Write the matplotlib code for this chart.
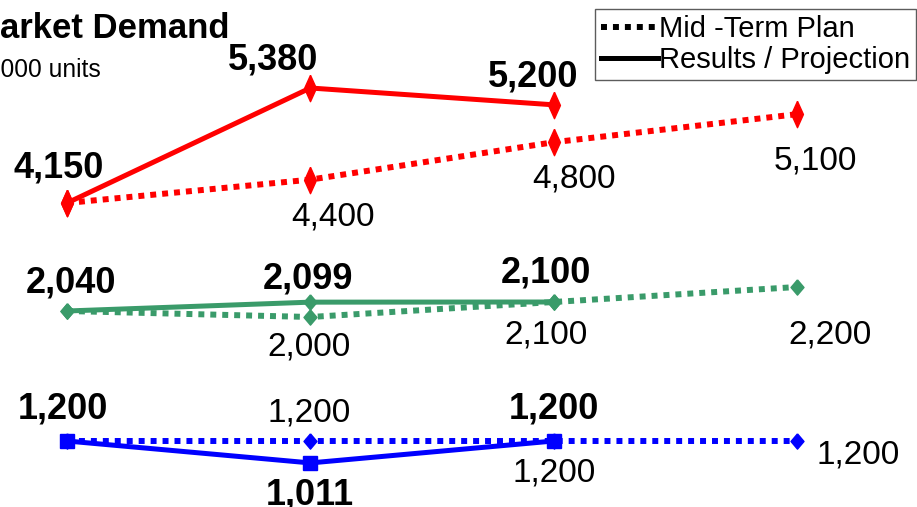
import matplotlib.pyplot as plt
import numpy as np

plt.rcParams['font.family'] = ['Liberation Sans', 'DejaVu Sans']

# Market demand by product line (1,000 units)
periods = [0, 1, 2, 3]
red_plan = [4150, 4400, 4800, 5100]
red_result = [4150, 5380, 5200]
green_plan = [2040, 2000, 2100, 2200]
green_result = [2040, 2099, 2100]
blue_plan = [1200, 1200, 1200, 1200]
blue_result = [1200, 1011, 1200]

W, H = 917, 507
fig = plt.figure(figsize=(W / 100, H / 100), dpi=100)

RED = '#ff0000'
GREEN = '#3a9b6a'
BLUE = '#0000ff'

# narrow diamonds
thin_d = [(0, 1), (0.45, 0), (0, -1), (-0.45, 0), (0, 1)]
mid_d = [(0, 1), (0.85, 0), (0, -1), (-0.85, 0), (0, 1)]

xlim = (-67 / 243.3, 3 + 120 / 243.3)


def band(top, bottom, ylim):
    # one axes per product line, placed by pixel rows
    ax = fig.add_axes([0, 1 - bottom / H, 1, (bottom - top) / H])
    ax.set_xlim(*xlim)
    ax.set_ylim(*ylim)
    ax.axis('off')
    return ax


def draw(ax, plan, result, color, plan_marker, res_marker, ms_plan, ms_res,
         plan_off, res_off):
    ax.plot(periods[:len(plan)], plan, color=color, lw=4.3,
            linestyle=(0, (1, 1)), dash_capstyle='butt',
            marker=plan_marker, ms=ms_plan, clip_on=False, zorder=2)
    ax.plot(periods[:len(result)], result, color=color, lw=3.6,
            marker=res_marker, ms=ms_res, clip_on=False, zorder=3)
    for i, v in enumerate(plan):
        if plan_off[i] is None:
            continue
        ax.annotate(f'{v:,}', (periods[i], v), xytext=plan_off[i],
                    textcoords='offset pixels', ha='center', va='baseline',
                    fontsize=24, annotation_clip=False)
    for i, v in enumerate(result):
        ax.annotate(f'{v:,}', (periods[i], v), xytext=res_off[i],
                    textcoords='offset pixels', ha='center', va='baseline',
                    fontsize=26, fontweight='bold', annotation_clip=False)


# red: 0.0935 px per unit, 4150 at row 203
ax_r = band(60, 230, (4150 - 27 / 0.0935, 4150 + 143 / 0.0935))
draw(ax_r, red_plan, red_result, RED, thin_d, thin_d, 19, 19,
     [None, (23, -46), (20, -45), (18, -55)],
     [(-8, 25), (-37, 18), (-21, 18)])

# green: 0.15 px per unit, 2040 at row 311
ax_g = band(260, 350, (2040 - 39 / 0.15, 2040 + 51 / 0.15))
draw(ax_g, green_plan, green_result, GREEN, mid_d, mid_d, 11, 11,
     [None, (-1, -39), (-8, -42), (33, -56)],
     [(4, 19), (-2, 14), (-8, 19)])

# blue: 0.116 px per unit, 1200 at row 441
ax_b = band(400, 490, (1200 - 49 / 0.116, 1200 + 41 / 0.116))
draw(ax_b, blue_plan, blue_result, BLUE, mid_d, 's', 11, 10,
     [None, (-1, 20), (0, -41), (61, -22)],
     [(-4, 23), (-1, -42), (0, 23)])

fig.text(-29 / W, 1 - 38 / H, 'Market Demand', fontsize=25,
         fontweight='bold', va='baseline')
fig.text(-20.5 / W, 1 - 77 / H, '1,000 units', fontsize=17.7, va='baseline')

h_plan, = ax_r.plot([], [], color='black', lw=4.3, linestyle=(0, (1, 1)),
                    dash_capstyle='butt')
h_res, = ax_r.plot([], [], color='black', lw=3.6)
leg = fig.legend([h_plan, h_res], ['Mid -Term Plan', 'Results / Projection'],
                 loc='upper right', bbox_to_anchor=(916 / W, 1 - 9 / H),
                 fontsize=21, frameon=True, fancybox=False,
                 handlelength=1.95, handletextpad=0.05, borderpad=0.2,
                 labelspacing=0.12, borderaxespad=0)
leg.get_frame().set_edgecolor('#333333')
leg.get_frame().set_linewidth(1.0)

fig.savefig('out.png', dpi=100)
